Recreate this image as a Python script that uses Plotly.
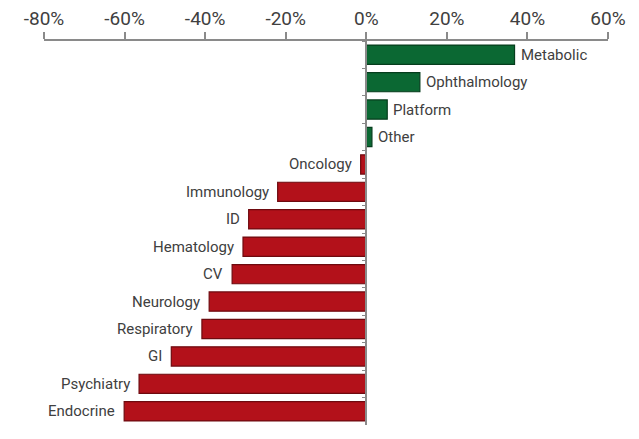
import plotly.graph_objects as go

categories = ["Metabolic", "Ophthalmology", "Platform", "Other", "Oncology", "Immunology",
              "ID", "Hematology", "CV", "Neurology", "Respiratory", "GI", "Psychiatry", "Endocrine"]
values = [36.8, 13.3, 5.2, 1.4, -1.4, -22.0, -29.2, -30.6, -33.3, -39.0, -40.8, -48.4, -56.4, -60.1]
tick_vals = [-80, -60, -40, -20, 0, 20, 40, 60]
tick_text = ["-80%", "-60%", "-40%", "-20%", "0%", "20%", "40%", "60%"]

GREEN = "#0b6833"
GREEN_EDGE = "#063d1d"
RED = "#b3111a"
RED_EDGE = "#6e0a0f"

colors = [GREEN if v >= 0 else RED for v in values]
edges = [GREEN_EDGE if v >= 0 else RED_EDGE for v in values]

xmin, xmax = -80, 60

fig = go.Figure(go.Bar(
    x=values, y=categories, orientation="h",
    marker=dict(color=colors, line=dict(color=edges, width=1.2)),
    hoverinfo="skip",
))

for c, v in zip(categories, values):
    fig.add_annotation(
        x=v, y=c, text=c, showarrow=False,
        xanchor="left" if v >= 0 else "right",
        xshift=4 if v >= 0 else -7,
        font=dict(family="Roboto, Arial, sans-serif", size=15, color="#404040"),
    )

# page body has an 8px default margin, so the figure is offset by (8, 8)
fig.update_layout(
    width=631, height=431,
    margin=dict(l=36, r=31, t=33, b=14, autoexpand=False),
    paper_bgcolor="white", plot_bgcolor="white",
    bargap=0.3,
    showlegend=False,
    xaxis=dict(
        range=[xmin, xmax], side="top",
        tickvals=tick_vals, ticktext=tick_text,
        showgrid=False, zeroline=False, automargin=False,
        showline=True, linecolor="#8a8a8a", linewidth=1.5,
        ticks="outside", ticklen=7, tickwidth=1.5, tickcolor="#8a8a8a",
        tickfont=dict(family="Roboto, Arial, sans-serif", size=19, color="#404040"),
        fixedrange=True,
    ),
    yaxis=dict(
        type="category", categoryorder="array", categoryarray=categories,
        autorange="reversed", automargin=False,
        showticklabels=False, showgrid=False, zeroline=False,
        showline=True, linecolor="#8a8a8a", linewidth=1.5,
        anchor="free", position=(0 - xmin) / (xmax - xmin),
        ticks="outside", tickson="boundaries", ticklen=4, tickwidth=1.2, tickcolor="#8a8a8a",
        fixedrange=True,
    ),
)

fig.write_html("out.html")
